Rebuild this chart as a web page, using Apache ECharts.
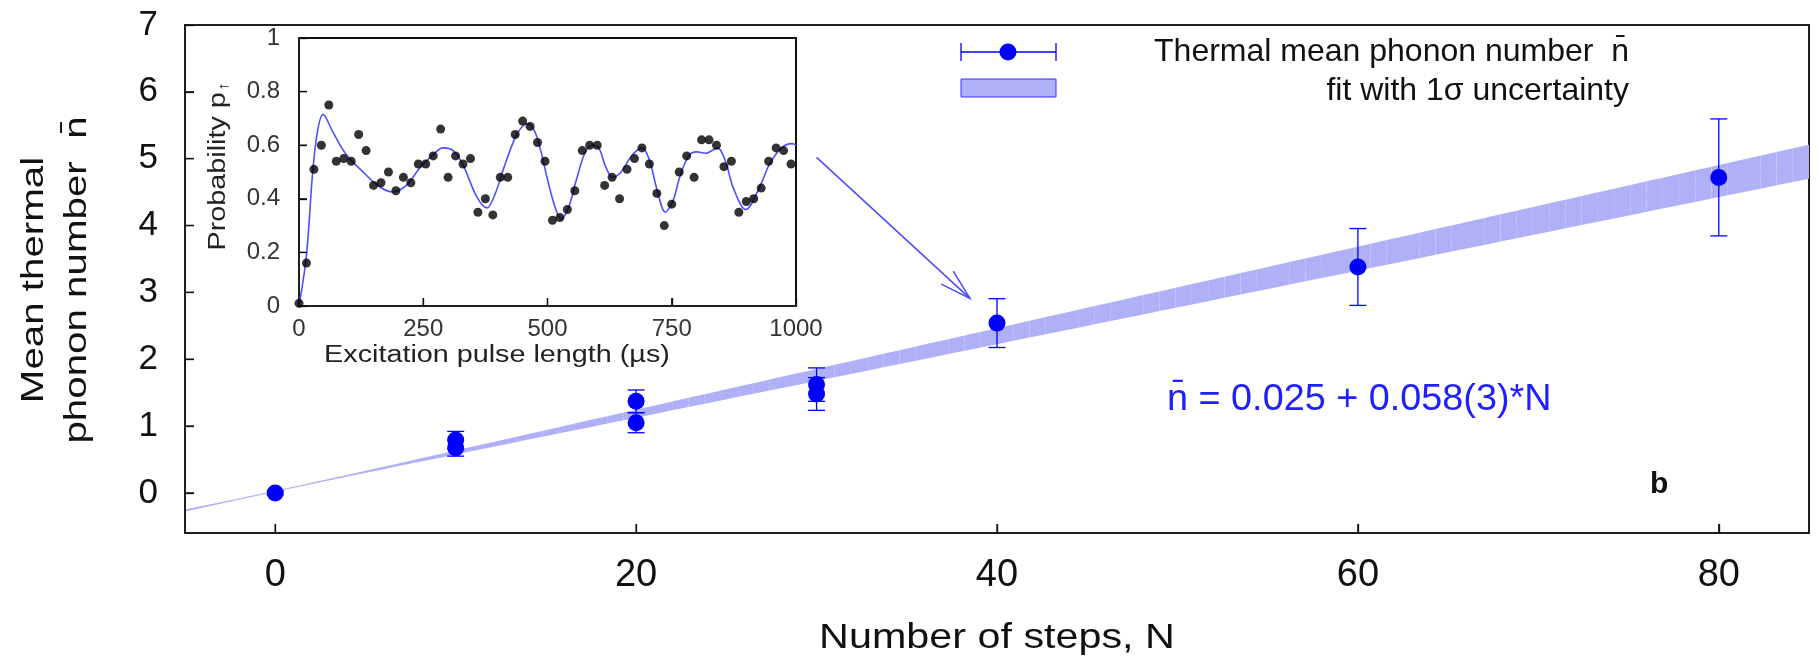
<!DOCTYPE html>
<html>
<head>
<meta charset="utf-8">
<script src="https://cdn.jsdelivr.net/npm/echarts@6/dist/echarts.min.js"></script>
<style>
  html, body { margin: 0; padding: 0; background: #fff; }
  #chart { width: 1818px; height: 660px; }
</style>
</head>
<body>
<div id="chart"></div>
<script>
// ---- Main panel: mean thermal phonon number vs. number of steps ----
const steps      = [0, 10, 10, 20, 20, 30, 30, 40, 60, 80];
const meanPhonon = [0.00, 0.79, 0.67, 1.37, 1.05, 1.62, 1.48, 2.54, 3.38, 4.72];
const phononErr  = [0.03, 0.13, 0.12, 0.17, 0.15, 0.25, 0.245, 0.365, 0.575, 0.875];

// Linear fit  n = a + b*N  (1 sigma on the slope), as quoted in the annotation
const fitIntercept = 0.025;
const fitSlope     = 0.058;
const fitSlopeErr  = 0.003;
const fitRange     = [-5, 85];
const phononRange  = [-0.6, 7];
const fitSegments  = 100;

const stepTicks   = [0, 20, 40, 60, 80];
const phononTicks = [0, 1, 2, 3, 4, 5, 6, 7];

// ---- Inset: excitation probability vs. pulse length ----
const pulseLength = [0, 15, 30, 45, 60, 75, 90, 105, 120, 135, 150, 165, 180, 195, 210, 225,
  240, 255, 270, 285, 300, 315, 330, 345, 360, 375, 390, 405, 420, 435, 450, 465, 480, 495,
  510, 525, 540, 555, 570, 585, 600, 615, 630, 645, 660, 675, 690, 705, 720, 735, 750, 765,
  780, 795, 810, 825, 840, 855, 870, 885, 900, 915, 930, 945, 960, 975, 990];
const probUp = [0.01, 0.16, 0.51, 0.60, 0.75, 0.54, 0.55, 0.54, 0.64, 0.58, 0.45, 0.46, 0.50,
  0.43, 0.48, 0.46, 0.53, 0.53, 0.56, 0.66, 0.48, 0.56, 0.53, 0.55, 0.35, 0.40, 0.34, 0.48,
  0.48, 0.64, 0.69, 0.67, 0.61, 0.54, 0.32, 0.33, 0.36, 0.43, 0.58, 0.60, 0.60, 0.45, 0.48,
  0.40, 0.51, 0.55, 0.59, 0.53, 0.42, 0.30, 0.38, 0.50, 0.56, 0.48, 0.62, 0.62, 0.60, 0.52,
  0.54, 0.35, 0.39, 0.40, 0.44, 0.54, 0.59, 0.58, 0.53];
const pulseFitT = [0, 15, 28, 38, 48, 68, 95, 129, 162, 189, 216, 243, 270, 290, 310, 330, 357,
  378, 395, 413, 433, 445, 458, 472, 485, 499, 515, 527, 541, 558, 575, 589, 603, 617, 631,
  648, 669, 690, 704, 721, 737, 752, 766, 784, 800, 818, 842, 858, 874, 899, 926, 947, 971,
  992, 1000];
const pulseFitP = [0.00, 0.19, 0.51, 0.66, 0.715, 0.65, 0.565, 0.50, 0.445, 0.426, 0.45, 0.515,
  0.565, 0.59, 0.58, 0.527, 0.41, 0.366, 0.42, 0.52, 0.62, 0.66, 0.68, 0.66, 0.59, 0.48, 0.37,
  0.325, 0.36, 0.47, 0.57, 0.60, 0.59, 0.52, 0.48, 0.50, 0.56, 0.59, 0.55, 0.43, 0.35, 0.39,
  0.48, 0.56, 0.575, 0.57, 0.59, 0.54, 0.44, 0.36, 0.44, 0.53, 0.59, 0.606, 0.60];
const pulseTicks = [0, 250, 500, 750, 1000];
const probTicks  = [0, 0.2, 0.4, 0.6, 0.8, 1];

// Arrow from the inset towards the N = 40 measurement
const arrowFrom = [30.0, 5.02];
const arrowTo   = [38.5, 2.91];

const FONT = 'Liberation Sans, Arial, Helvetica, sans-serif';
const BLUE = '#0000ff';
const BAND = '#b0b0f8';
const TICK = '#111';

function bandEdge(n, sign) {
  return fitIntercept + fitSlope * n + sign * fitSlopeErr * Math.abs(n);
}

// split the fit band into thin slices along N
const bandSlices = [];
const dN = (fitRange[1] - fitRange[0]) / fitSegments;
for (let i = 0; i < fitSegments; i++) {
  bandSlices.push([fitRange[0] + i * dN, fitRange[0] + (i + 1) * dN]);
}

const pointData = steps.map((n, i) => [n, meanPhonon[i]]);
const errData   = steps.map((n, i) => [n, meanPhonon[i], phononErr[i]]);
const insetData = pulseLength.map((t, i) => [t, probUp[i]]);
const insetFit  = pulseFitT.map((t, i) => [t, pulseFitP[i]]);

// inward tick marks along the bottom (dir 0) and left (dir 1) frame edges
function tickSeries(xi, yi, xTicks, yTicks, xMin, yMin, len) {
  const data = xTicks.map(v => [v, yMin, 0]).concat(yTicks.map(v => [xMin, v, 1]));
  return {
    type: 'custom', xAxisIndex: xi, yAxisIndex: yi, z: 7, clip: false, silent: true,
    data: data,
    renderItem: function (params, api) {
      const p = api.coord([api.value(0), api.value(1)]);
      const vertical = api.value(2) === 0;
      return {
        type: 'line',
        shape: vertical ? { x1: p[0], y1: p[1], x2: p[0], y2: p[1] - len }
                        : { x1: p[0], y1: p[1], x2: p[0] + len, y2: p[1] },
        style: { stroke: TICK, lineWidth: 1.3 }
      };
    }
  };
}

const chart = echarts.init(document.getElementById('chart'), null, { renderer: 'canvas' });

function label(x, y, text, size, opts) {
  opts = opts || {};
  return {
    type: 'text', x: x, y: y,
    rotation: opts.rotation || 0,
    scaleX: opts.scaleX || 1,
    style: Object.assign({
      text: text, align: opts.align || 'center', verticalAlign: 'middle',
      fontSize: size, fontFamily: FONT, fill: opts.color || '#111',
      fontWeight: opts.weight || 'normal', lineHeight: opts.lineHeight
    }, opts.style || {})
  };
}

const tickStyle = { color: TICK, width: 1.3 };
const frameLine = { show: true, onZero: false, lineStyle: { color: '#1e1e1e', width: 2 } };

const option = {
  backgroundColor: '#ffffff',
  animation: false,
  textStyle: { fontFamily: FONT },
  grid: [
    { left: 185, right: 9, top: 25, bottom: 127, show: true, z: 0,
      borderColor: '#1e1e1e', borderWidth: 2, backgroundColor: 'transparent' },
    { left: 299, top: 38, width: 497, height: 268, show: true, z: 1,
      borderColor: '#111', borderWidth: 2, backgroundColor: '#ffffff' }
  ],
  xAxis: [
    {
      gridIndex: 0, type: 'value', min: fitRange[0], max: fitRange[1], z: 3,
      axisLine: frameLine,
      axisTick: { show: true, inside: true, length: 9, customValues: stepTicks, lineStyle: tickStyle },
      axisLabel: { customValues: stepTicks, fontSize: 38, color: '#111', margin: 24, fontFamily: FONT },
      splitLine: { show: false }
    },
    {
      gridIndex: 1, type: 'value', min: 0, max: 1000, interval: 250, z: 3,
      axisLine: frameLine,
      axisTick: { show: true, inside: true, length: 8, customValues: pulseTicks, lineStyle: tickStyle },
      axisLabel: { customValues: pulseTicks, fontSize: 24, color: '#333', margin: 11, fontFamily: FONT,
                   formatter: v => String(v) },
      splitLine: { show: false }
    }
  ],
  yAxis: [
    {
      gridIndex: 0, type: 'value', min: phononRange[0], max: phononRange[1], z: 3,
      axisLine: frameLine,
      axisTick: { show: true, inside: true, length: 9, customValues: phononTicks, lineStyle: tickStyle },
      axisLabel: { customValues: phononTicks, fontSize: 35, color: '#111', margin: 27, fontFamily: FONT },
      splitLine: { show: false }
    },
    {
      gridIndex: 1, type: 'value', min: 0, max: 1, interval: 0.2, z: 3,
      axisLine: frameLine,
      axisTick: { show: true, inside: true, length: 8, lineStyle: tickStyle },
      axisLabel: { fontSize: 24, color: '#333', margin: 19, fontFamily: FONT },
      splitLine: { show: false }
    }
  ],
  series: [
    {
      // central fit line, only visible where the band is thinner than a pixel
      type: 'line', xAxisIndex: 0, yAxisIndex: 0, z: 1, showSymbol: false, silent: true,
      data: fitRange.map(n => [n, bandEdge(n, 0)]),
      lineStyle: { color: '#c0c0f8', width: 1.2 }
    },
    {
      // 1 sigma fit band
      type: 'custom', name: 'fit', xAxisIndex: 0, yAxisIndex: 0, clip: true, z: 2,
      data: bandSlices,
      renderItem: function (params, api) {
        const n0 = api.value(0), n1 = api.value(1);
        return {
          type: 'polygon',
          shape: { points: [
            api.coord([n0, bandEdge(n0, -1)]), api.coord([n1, bandEdge(n1, -1)]),
            api.coord([n1, bandEdge(n1, 1)]), api.coord([n0, bandEdge(n0, 1)])
          ] },
          style: { fill: BAND }
        };
      }
    },
    {
      // error bars
      type: 'custom', name: 'errors', xAxisIndex: 0, yAxisIndex: 0, z: 3,
      data: errData,
      renderItem: function (params, api) {
        const n = api.value(0), m = api.value(1), e = api.value(2);
        const top = api.coord([n, m + e]);
        const bot = api.coord([n, m - e]);
        const cap = 8.5;
        const st = { stroke: BLUE, lineWidth: 1.3 };
        return {
          type: 'group',
          children: [
            { type: 'line', shape: { x1: top[0], y1: top[1], x2: bot[0], y2: bot[1] }, style: st },
            { type: 'line', shape: { x1: top[0] - cap, y1: top[1], x2: top[0] + cap, y2: top[1] }, style: st },
            { type: 'line', shape: { x1: bot[0] - cap, y1: bot[1], x2: bot[0] + cap, y2: bot[1] }, style: st }
          ]
        };
      }
    },
    {
      type: 'scatter', name: 'Thermal mean phonon number', xAxisIndex: 0, yAxisIndex: 0, z: 4,
      data: pointData, symbol: 'circle', symbolSize: 17,
      itemStyle: { color: BLUE, opacity: 1 }
    },
    {
      // pointer from inset to the N = 40 point
      type: 'custom', xAxisIndex: 0, yAxisIndex: 0, z: 5, clip: false,
      data: [[arrowFrom[0], arrowFrom[1], arrowTo[0], arrowTo[1]]],
      renderItem: function (params, api) {
        const p0 = api.coord([api.value(0), api.value(1)]);
        const p1 = api.coord([api.value(2), api.value(3)]);
        const ang = Math.atan2(p1[1] - p0[1], p1[0] - p0[0]);
        const L = 32, h = 16 * Math.PI / 180;
        const a1 = [p1[0] - L * Math.cos(ang - h), p1[1] - L * Math.sin(ang - h)];
        const a2 = [p1[0] - L * Math.cos(ang + h), p1[1] - L * Math.sin(ang + h)];
        const st = { stroke: '#4a4aff', lineWidth: 1.5, fill: 'none' };
        return {
          type: 'group',
          children: [
            { type: 'line', shape: { x1: p0[0], y1: p0[1], x2: p1[0], y2: p1[1] }, style: st },
            { type: 'polyline', shape: { points: [a1, p1, a2] }, style: st }
          ]
        };
      }
    },
    {
      type: 'line', name: 'inset fit', xAxisIndex: 1, yAxisIndex: 1, z: 5,
      data: insetFit, smooth: 0.35, showSymbol: false,
      lineStyle: { color: '#5050ff', width: 1.6 }
    },
    {
      type: 'scatter', name: 'inset data', xAxisIndex: 1, yAxisIndex: 1, z: 6, clip: false,
      data: insetData, symbolSize: 9, itemStyle: { color: '#000' }
    },
    tickSeries(0, 0, stepTicks, phononTicks.slice(0, -1), fitRange[0], phononRange[0], 9),
    tickSeries(1, 1, pulseTicks.slice(1, -1), probTicks.slice(1, -1), 0, 0, 8)
  ],
  graphic: [
    // axis titles
    label(56, 280, 'Mean thermal\nphonon number  n\u0304', 31,
          { rotation: Math.PI / 2, scaleX: 1.3, lineHeight: 43 }),
    label(997, 638, 'Number of steps, N', 35, { scaleX: 1.18 }),
    label(497, 356, 'Excitation pulse length (\u00b5s)', 23, { scaleX: 1.25, color: '#222' }),
    label(219, 166, 'Probability p{s|\u2191}', 23, {
      rotation: Math.PI / 2, scaleX: 1.25, color: '#222',
      style: { rich: { s: { fontSize: 15, fontFamily: FONT, fill: '#222', padding: [9, 0, 0, 1] } } }
    }),
    // legend
    { type: 'line', shape: { x1: 961, y1: 52, x2: 1056, y2: 52 }, style: { stroke: BLUE, lineWidth: 1.3 } },
    { type: 'line', shape: { x1: 961, y1: 43, x2: 961, y2: 61 }, style: { stroke: BLUE, lineWidth: 1.3 } },
    { type: 'line', shape: { x1: 1056, y1: 43, x2: 1056, y2: 61 }, style: { stroke: BLUE, lineWidth: 1.3 } },
    { type: 'circle', shape: { cx: 1008, cy: 52, r: 8.5 }, style: { fill: BLUE } },
    { type: 'rect', shape: { x: 961, y: 79, width: 95, height: 18 },
      style: { fill: BAND, stroke: '#3030ff', lineWidth: 1 } },
    label(1629, 52, 'Thermal mean phonon number  n\u0304', 32, { align: 'right' }),
    label(1629, 91, 'fit with 1\u03c3 uncertainty', 32, { align: 'right' }),
    // fit equation
    label(1167, 400, 'n\u0304 = 0.025 + 0.058(3)*N', 36, { align: 'left', color: '#2020ff', scaleX: 1.05 }),
    // panel label
    label(1650, 485, 'b', 30, { align: 'left', weight: 'bold' })
  ]
};

chart.setOption(option);
</script>
</body>
</html>
